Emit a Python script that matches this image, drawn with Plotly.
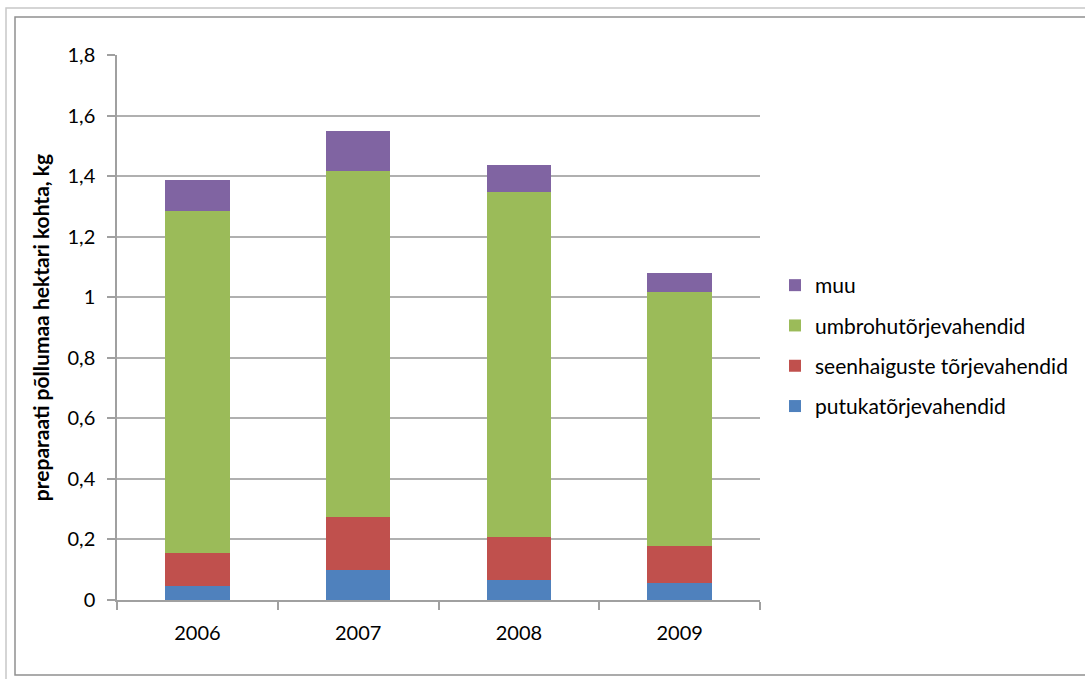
import plotly.graph_objects as go

years = ["2006", "2007", "2008", "2009"]
putuka = [0.047, 0.100, 0.066, 0.056]
seenhaigus = [0.108, 0.174, 0.142, 0.122]
umbrohi = [1.129, 1.143, 1.139, 0.839]
muu = [0.103, 0.132, 0.089, 0.063]

series = [
    ("putukatõrjevahendid", putuka, "#4F81BD"),
    ("seenhaiguste tõrjevahendid", seenhaigus, "#C0504D"),
    ("umbrohutõrjevahendid", umbrohi, "#9BBB59"),
    ("muu", muu, "#8064A2"),
]

W, H = 1085, 679
L, R, T, B = 117, 760, 55, 600

fig = go.Figure()
# stacked bottom-up; legend lists the top segment first
for i, (name, vals, col) in enumerate(series):
    fig.add_trace(go.Bar(x=years, y=vals, name=name, marker_color=col,
                         marker_line_width=0, legendgroup=name,
                         legendrank=len(series) - i))

def px_x(p):
    return (p - L) / (R - L)

def px_y(p):
    return (B - p) / (B - T)

FONT = "Lato"

fig.update_layout(
    width=W, height=H,
    barmode="stack", bargap=0.6,
    plot_bgcolor="white", paper_bgcolor="white",
    margin=dict(l=L, r=W - R, t=T, b=H - B, pad=0, autoexpand=False),
    font=dict(family=FONT, size=20, color="black"),
    showlegend=True,
    legend=dict(traceorder="grouped", x=px_x(775), y=px_y(265),
                xanchor="left", yanchor="top", tracegroupgap=10,
                font=dict(size=21), itemwidth=30, bgcolor="rgba(0,0,0,0)"),
    xaxis=dict(type="category", showline=True, linecolor="#A0A0A0", linewidth=1.5,
               ticks="outside", tickson="boundaries", ticklen=8, tickcolor="#A0A0A0",
               tickwidth=1.5, ticklabelstandoff=14, showgrid=False,
               tickfont=dict(size=20)),
    yaxis=dict(range=[0, 1.8], showline=True, linecolor="#A0A0A0",
               linewidth=1.5, ticks="outside", ticklen=8, tickcolor="#A0A0A0",
               tickwidth=1.5, showgrid=True, gridcolor="#B0B0B0", gridwidth=1.5,
               zeroline=False, ticklabelstandoff=8,
               tickfont=dict(size=20),
               title=dict(text="<b>preparaati põllumaa hektari kohta, kg</b>",
                          font=dict(size=21), standoff=12)),
    shapes=[
        dict(type="rect", xref="paper", yref="paper",
             x0=px_x(6), x1=px_x(1100), y0=px_y(700), y1=px_y(8),
             line=dict(color="#C8C8C8", width=1.5), layer="below"),
        dict(type="rect", xref="paper", yref="paper",
             x0=px_x(15), x1=px_x(1100), y0=px_y(675), y1=px_y(17),
             line=dict(color="#909090", width=1.5), layer="below"),
    ],
)

# decimal comma ticks; the integer tick is shown as "1"
tickvals = [0, 0.2, 0.4, 0.6, 0.8, 1.0, 1.2, 1.4, 1.6, 1.8]
ticktext = ["0" if v == 0 else ("1" if v == 1 else f"{v:.1f}".replace(".", ","))
            for v in tickvals]
fig.update_yaxes(tickmode="array", tickvals=tickvals, ticktext=ticktext)

fig.write_html("out.html")
